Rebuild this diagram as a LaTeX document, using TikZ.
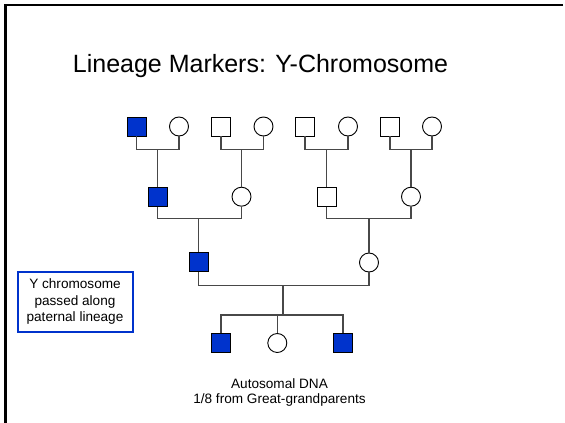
\documentclass[tikz,border=0pt]{standalone}
\usepackage{fontspec}
\setmainfont{Liberation Sans}
\definecolor{ychrom}{RGB}{0,51,204}
\definecolor{linkgray}{RGB}{72,72,72}
\tikzset{
  male/.style={draw=black, line width=0.9pt, minimum size=19pt, inner sep=0pt, fill=white},
  carrier/.style={male, fill=ychrom},
  female/.style={draw=black, line width=0.9pt, circle, minimum size=19pt, inner sep=0pt, fill=white},
  link/.style={draw=linkgray, line width=1.2pt},
  frameline/.style={line width=2.6pt, black},
}
\begin{document}
\begin{tikzpicture}[x=1pt, y=-1pt]
\useasboundingbox (0,0) rectangle (565,423);
\fill[white] (0,0) rectangle (565,423);
% slide frame (top and left edges)
\coordinate (fTL) at (5.7,5);
\coordinate (fTR) at (563,5);
\coordinate (fBL) at (5.7,423);
\draw[frameline] (fTR) -- (fTL) -- (fBL);

% title
\node (title) at (260.5,66) {\fontsize{25}{30}\selectfont Lineage Markers: Y-Chromosome};

% great-grandparents
\node[carrier] (a1) at (136.5,126.5) {};
\node[female]  (b1) at (179,126.5) {};
\node[male]    (a2) at (221,126.5) {};
\node[female]  (b2) at (263.5,126.5) {};
\node[male]    (a3) at (305,126.5) {};
\node[female]  (b3) at (348,126.5) {};
\node[male]    (a4) at (390,126.5) {};
\node[female]  (b4) at (432,126.5) {};

\coordinate (m1) at (157.75,149.5);
\coordinate (m2) at (241.5,149.5);
\coordinate (m3) at (326.5,149.5);
\coordinate (m4) at (411,149.5);

% grandparents
\node[carrier] (g1) at (157.75,196.7) {};
\node[female]  (g2) at (241.5,196.7) {};
\node[male]    (g3) at (326.5,196.7) {};
\node[female]  (g4) at (411,196.7) {};

\coordinate (n1) at (198.5,218.5);
\coordinate (n2) at (369,218.5);

% parents
\node[carrier] (p1) at (198.5,262) {};
\node[female]  (p2) at (369,262.5) {};

\coordinate (q1) at (283,285.5);
\coordinate (sib) at (283,315);

% children
\node[carrier] (c1) at (221,343) {};
\node[female]  (c2) at (277.3,343) {};
\node[carrier] (c3) at (343,343) {};

% couple and descent lines
\foreach \i in {1,2,3,4} {
  \draw[link] (a\i.south) |- (m\i) -| (b\i.south);
}
\draw[link] (m1) -- (g1.north);
\draw[link] (m2) -- (g2.north);
\draw[link] (m3) -- (g3.north);
\draw[link] (m4) -- (g4.north);

\draw[link] (g1.south) |- (n1) -| (g2.south);
\draw[link] (g3.south) |- (n2) -| (g4.south);
\draw[link] (n1) -- (p1.north);
\draw[link] (n2) -- (p2.north);

\draw[link] (p1.south) |- (q1) -| (p2.south);
\draw[link] (q1) -- (sib);
\draw[link] (c1.north) |- (sib) -| (c3.north);
\draw[link] (c2.north) -- (c2.north |- sib);

% legend box
\node[draw=ychrom, line width=2pt, minimum width=115pt, minimum height=60pt,
      inner sep=0pt, align=center, font=\fontsize{13.6}{16.7}\selectfont]
  (legend) at (75,301.7) {Y chromosome\\passed along\\paternal lineage};

% caption
\node[align=center, font=\fontsize{13.6}{15}\selectfont] (caption) at (279.5,392.5)
  {Autosomal DNA\\1/8 from Great-grandparents};
\end{tikzpicture}
\end{document}
